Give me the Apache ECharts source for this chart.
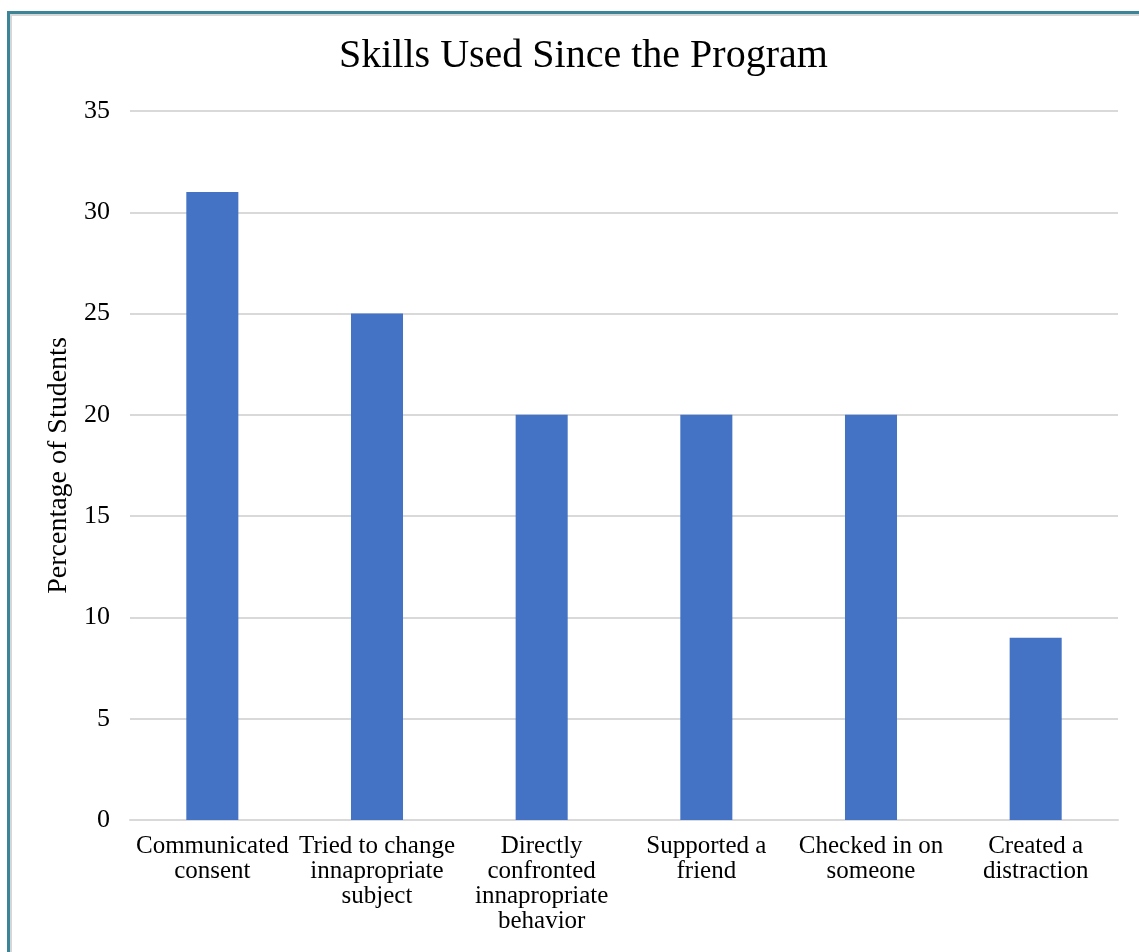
<!DOCTYPE html>
<html>
<head>
<meta charset="utf-8">
<script src="https://cdn.jsdelivr.net/npm/echarts@6/dist/echarts.min.js"></script>
<style>
  html, body { margin: 0; padding: 0; background: #ffffff; }
  #chart { position: absolute; left: 0; top: 0; width: 1139px; height: 952px; }
  #frame {
    position: absolute; left: 7px; top: 11px; right: -4px; bottom: -4px;
    border-top: 3px solid #3b8597; border-left: 3px solid #3b8597;
    box-shadow: inset 2px 2px 0 #d6d6d6;
    pointer-events: none;
  }
</style>
</head>
<body>
<div id="chart"></div>
<div id="frame"></div>
<script>
// Skills reported by students after the program
const chartTitle = 'Skills Used Since the Program';
const yAxisTitle = 'Percentage of Students';
const skills = [
  'Communicated\nconsent',
  'Tried to change\ninnapropriate\nsubject',
  'Directly\nconfronted\ninnapropriate\nbehavior',
  'Supported a\nfriend',
  'Checked in on\nsomeone',
  'Created a\ndistraction'
];
const percentages = [31, 25, 20, 20, 20, 9];
const yTicks = { min: 0, max: 35, step: 5 };

const serif = '"Liberation Serif", "Times New Roman", serif';

const chart = echarts.init(document.getElementById('chart'), null, { renderer: 'canvas' });
chart.setOption({
  animation: false,
  backgroundColor: '#ffffff',
  title: {
    text: chartTitle,
    left: 334,
    top: 31,
    textStyle: { fontFamily: serif, fontSize: 40, fontWeight: 'normal', color: '#000000' }
  },
  grid: { left: 130, right: 21, top: 111, bottom: 132, containLabel: false },
  xAxis: {
    type: 'category',
    data: skills,
    axisLine: { show: true, lineStyle: { color: '#d9d9d9', width: 2 } },
    axisTick: { show: false },
    axisLabel: {
      interval: 0,
      margin: 14,
      fontFamily: serif,
      fontSize: 25,
      lineHeight: 25,
      color: '#000000',
      align: 'center'
    }
  },
  yAxis: {
    type: 'value',
    min: yTicks.min,
    max: yTicks.max,
    interval: yTicks.step,
    name: yAxisTitle,
    nameLocation: 'middle',
    nameGap: 46,
    nameRotate: 90,
    nameTextStyle: { fontFamily: serif, fontSize: 28, color: '#000000' },
    axisLine: { show: false },
    axisTick: { show: false },
    splitLine: { lineStyle: { color: '#d9d9d9', width: 2 } },
    axisLabel: { fontFamily: serif, fontSize: 26, color: '#000000', margin: 20 }
  },
  series: [{
    type: 'bar',
    data: percentages,
    barWidth: '31.6%',
    itemStyle: { color: '#4472C4' }
  }]
});
</script>
</body>
</html>
